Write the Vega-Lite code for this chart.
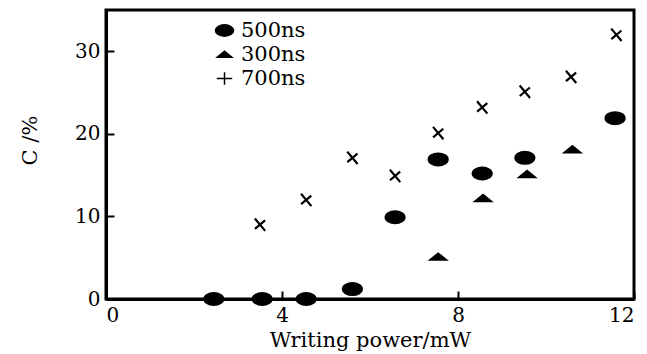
{
  "$schema": "https://vega.github.io/schema/vega-lite/v6.json",
  "autosize": {"type": "none"},
  "padding": {"left": 106, "top": 10, "right": 13, "bottom": 55},
  "width": 528,
  "height": 289,
  "background": "white",
  "config": {
    "view": {"stroke": "black", "strokeWidth": 3},
    "font": "DejaVu Serif",
    "axis": {
      "grid": false,
      "domainColor": "black",
      "domainWidth": 3,
      "tickColor": "black",
      "tickWidth": 2,
      "tickSize": -8,
      "labelFont": "DejaVu Serif",
      "labelFontSize": 20,
      "labelColor": "black",
      "titleFont": "DejaVu Serif",
      "titleFontSize": 21,
      "titleFontWeight": "normal",
      "titleColor": "black"
    }
  },
  "data": {
    "values": [
      {"power": 2.45, "c": 0, "series": "500ns"},
      {"power": 3.55, "c": 0, "series": "500ns"},
      {"power": 4.55, "c": 0, "series": "500ns"},
      {"power": 5.6, "c": 1.2, "series": "500ns"},
      {"power": 6.57, "c": 9.9, "series": "500ns"},
      {"power": 7.55, "c": 16.9, "series": "500ns"},
      {"power": 8.55, "c": 15.2, "series": "500ns"},
      {"power": 9.52, "c": 17.1, "series": "500ns"},
      {"power": 11.57, "c": 21.9, "series": "500ns"},
      {"power": 7.55, "c": 5.1, "series": "300ns"},
      {"power": 8.57, "c": 12.2, "series": "300ns"},
      {"power": 9.57, "c": 15.1, "series": "300ns"},
      {"power": 10.6, "c": 18.1, "series": "300ns"},
      {"power": 3.5, "c": 9.0, "series": "700ns"},
      {"power": 4.55, "c": 12.0, "series": "700ns"},
      {"power": 5.6, "c": 17.1, "series": "700ns"},
      {"power": 6.57, "c": 14.9, "series": "700ns"},
      {"power": 7.55, "c": 20.1, "series": "700ns"},
      {"power": 8.55, "c": 23.2, "series": "700ns"},
      {"power": 9.52, "c": 25.1, "series": "700ns"},
      {"power": 10.57, "c": 26.9, "series": "700ns"},
      {"power": 11.6, "c": 32.0, "series": "700ns"}
    ]
  },
  "mark": {"type": "point", "filled": true, "color": "black", "stroke": "black", "strokeWidth": 2.2, "opacity": 1, "size": 360},
  "encoding": {
    "x": {
      "field": "power", "type": "quantitative",
      "scale": {"domain": [0, 12], "nice": false, "zero": false},
      "axis": {"values": [0, 4, 8, 12], "format": "d", "title": "Writing power/mW", "labelPadding": 14, "titlePadding": 4}
    },
    "y": {
      "field": "c", "type": "quantitative",
      "scale": {"domain": [0, 35], "nice": false},
      "axis": {"values": [0, 10, 20, 30], "format": "d", "title": "C /%", "labelPadding": 14, "titleAngle": -90, "titleX": -76, "titleY": 130, "titleAlign": "center", "titleBaseline": "middle"}
    },
    "shape": {
      "field": "series", "type": "nominal",
      "scale": {
        "domain": ["500ns", "300ns", "700ns"],
        "range": [
          "M-1,0A1,0.62,0,1,1,1,0A1,0.62,0,1,1,-1,0Z",
          "M-0.8,0.3L0.8,0.3L0,-0.35Z",
          "M-0.85,0L0.85,0M0,-0.7L0,0.7"
        ]
      },
      "legend": {
        "title": null,
        "orient": "none",
        "legendX": 108,
        "legendY": 10,
        "labelFont": "DejaVu Serif",
        "labelFontSize": 21,
        "labelColor": "black",
        "rowPadding": 2,
        "labelOffset": 6,
        "symbolSize": 330,
        "encode": {
          "symbols": {
            "update": {
              "fill": {"value": "black"},
              "stroke": {"value": "black"},
              "strokeWidth": {"value": 2.2},
              "opacity": {"value": 1}
            }
          }
        }
      }
    },
    "angle": {
      "condition": {"test": "datum.series === '700ns'", "value": 50},
      "value": 0
    }
  }
}
